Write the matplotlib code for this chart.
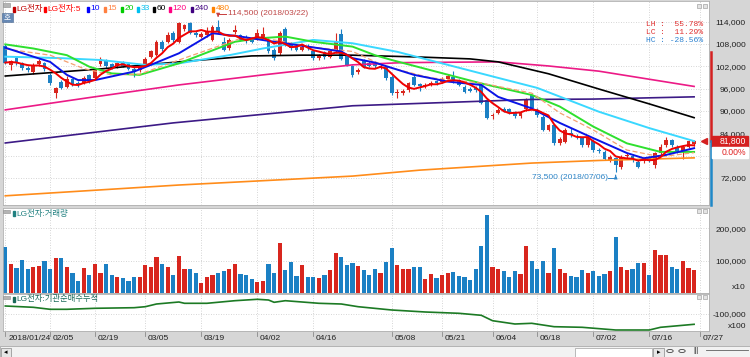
import matplotlib
matplotlib.use("Agg")
import matplotlib.pyplot as plt
from matplotlib.patches import Rectangle, Circle
from matplotlib.lines import Line2D
from matplotlib.transforms import blended_transform_factory as blend
import numpy as np
import pandas as pd

plt.rcParams['font.family'] = ['Liberation Sans', 'Noto Sans CJK KR', 'DejaVu Sans']

# ---------------- data (prices in thousand won) ----------------
holidays = pd.to_datetime(['2018-02-15', '2018-02-16', '2018-03-01', '2018-05-01',
                           '2018-05-07', '2018-05-22', '2018-06-06', '2018-06-13'])
axis_days = pd.bdate_range('2018-01-24', '2018-07-27').difference(holidays)

opens = [107.5, 102.4, 104.3, 102.8, 101.6, 100.4, 102.6, 102.8, 99.7, 94.8,
         97.9, 96.5, 98.5, 97.6, 97.5, 99.6, 98.8, 102.5, 103.5, 102.6,
         102.0, 103.0, 102.6, 101.4, 101.0, 102.5, 104.6, 105.0, 108.6, 108.6,
         111.0, 108.6, 112.0, 113.6, 111.0, 110.0, 110.5, 109.1, 112.7, 108.6,
         106.9, 111.3, 110.4, 110.0, 109.3, 109.6, 110.0, 109.1, 106.4, 105.5,
         112.0, 108.2, 107.2, 106.5, 107.5, 106.0, 104.2, 105.8, 104.5, 106.0,
         110.8, 105.0, 102.0, 100.6, 103.7, 103.0, 102.8, 101.6, 101.9, 99.2,
         94.8, 94.8, 95.6, 99.2, 97.2, 96.6, 97.0, 98.0, 97.8, 98.5,
         99.0, 98.2, 96.5, 96.0, 96.2, 97.0, 93.0, 88.6, 89.5, 90.6,
         90.4, 89.5, 88.6, 90.5, 94.3, 90.3, 88.5, 84.9, 86.2, 81.3,
         81.7, 84.0, 83.3, 82.7, 80.8, 82.0, 79.6, 79.0, 76.8, 77.3,
         74.9, 77.8, 78.0, 76.4, 76.5, 77.5, 75.5, 78.6, 80.8, 82.2,
         80.4, 79.0, 80.4, 81.0]
highs = [108.0, 103.8, 104.8, 103.2, 102.0, 102.8, 104.0, 103.2, 100.2, 96.5,
         98.3, 99.5, 98.8, 98.0, 99.5, 100.0, 101.5, 104.5, 104.0, 103.0,
         103.2, 103.5, 103.0, 101.8, 102.6, 104.5, 106.5, 109.0, 109.0, 111.2,
         111.4, 114.0, 113.5, 114.0, 111.5, 111.2, 112.5, 113.2, 114.5, 110.0,
         109.5, 113.1, 110.8, 110.4, 109.8, 112.0, 112.5, 109.5, 106.8, 111.5,
         112.6, 108.6, 107.6, 107.8, 108.0, 106.4, 105.4, 106.2, 106.5, 110.9,
         112.0, 105.4, 102.4, 101.5, 104.0, 103.4, 103.2, 102.6, 102.2, 99.6,
         96.0, 95.8, 97.8, 99.6, 97.6, 97.4, 98.0, 98.4, 99.1, 99.9,
         100.8, 98.6, 96.9, 96.4, 96.6, 97.4, 93.4, 89.5, 90.7, 91.0,
         90.8, 89.9, 89.9, 93.6, 94.7, 90.7, 88.9, 86.6, 86.6, 82.9,
         85.3, 85.5, 83.7, 83.1, 83.5, 82.4, 80.0, 79.4, 78.1, 77.7,
         78.1, 78.6, 78.4, 76.8, 77.4, 77.9, 79.1, 81.0, 83.0, 82.6,
         80.8, 80.8, 82.2, 82.2]
lows = [102.5, 101.0, 102.3, 101.0, 100.5, 100.0, 102.2, 100.8, 97.0, 93.4,
        96.0, 96.2, 96.6, 96.5, 97.2, 97.6, 98.4, 102.0, 101.6, 101.2,
        101.6, 101.8, 101.0, 99.0, 100.6, 102.0, 104.3, 104.8, 106.2, 108.2,
        108.6, 108.2, 111.4, 110.6, 110.0, 109.6, 110.0, 108.8, 110.9, 106.0,
        106.5, 110.8, 108.8, 108.4, 108.2, 109.2, 109.6, 105.6, 103.8, 105.0,
        107.4, 106.4, 106.0, 106.2, 106.4, 103.8, 103.8, 104.0, 104.2, 105.6,
        103.6, 102.0, 99.2, 100.0, 101.5, 101.8, 101.6, 101.2, 98.4, 94.4,
        93.5, 94.4, 95.2, 96.6, 95.5, 96.2, 96.6, 97.1, 97.4, 98.1,
        97.6, 96.6, 94.8, 95.1, 95.2, 91.8, 87.8, 87.8, 89.1, 89.6,
        89.2, 88.2, 88.2, 90.1, 90.4, 88.5, 84.5, 84.5, 80.9, 80.9,
        81.3, 83.1, 82.6, 80.4, 80.4, 79.0, 78.8, 76.8, 76.4, 73.5,
        74.5, 77.4, 76.4, 74.6, 76.1, 76.4, 74.8, 78.2, 80.4, 80.4,
        78.6, 77.2, 80.0, 80.6]
closes = [103.0, 103.3, 102.8, 101.5, 101.0, 102.4, 103.5, 101.2, 97.4, 96.1,
          96.3, 98.5, 97.0, 97.0, 98.8, 98.0, 101.0, 104.0, 102.0, 101.8,
          102.8, 102.2, 101.4, 100.6, 102.2, 104.1, 106.0, 108.6, 106.6, 110.4,
          109.0, 113.6, 113.0, 111.0, 110.4, 110.8, 111.5, 112.7, 111.3, 106.4,
          109.1, 111.8, 109.1, 108.8, 108.6, 111.0, 110.8, 106.0, 104.2, 111.0,
          107.8, 106.8, 106.5, 107.3, 106.8, 104.2, 105.0, 104.5, 106.0, 108.6,
          104.0, 102.4, 99.6, 101.0, 101.9, 102.2, 102.0, 102.2, 98.8, 94.8,
          95.2, 95.3, 97.4, 97.0, 96.8, 97.0, 97.6, 97.5, 98.7, 99.5,
          98.0, 97.0, 95.2, 95.5, 95.6, 92.2, 88.2, 89.0, 90.3, 90.0,
          89.6, 88.6, 89.5, 93.2, 90.8, 88.9, 84.9, 86.2, 81.3, 82.5,
          84.9, 83.5, 83.0, 80.8, 82.7, 79.4, 79.2, 77.2, 77.7, 75.5,
          77.7, 78.2, 76.8, 75.0, 77.0, 76.8, 78.7, 80.4, 82.2, 80.8,
          79.0, 80.4, 81.8, 81.8]
volume = [140600, 89500, 77300, 101800, 73100, 79100, 84300, 97600, 73100, 107900,
          107900, 81300, 62900, 38300, 77300, 56700, 89500, 62900, 89500, 56700,
          48500, 46500, 38300, 50600, 48500, 85300, 81300, 112000, 89500, 81300,
          56700, 115100, 75200, 75200, 62900, 30100, 48500, 56700, 60700, 69000,
          73100, 89500, 58900, 54600, 42300, 34400, 36200, 89500, 62900, 152800,
          71200, 95700, 52800, 85300, 50600, 50600, 46500, 54600, 71200, 122100,
          112000, 85300, 91400, 83400, 71200, 56700, 75200, 60700, 95700, 138600,
          85300, 75200, 75200, 81300, 81300, 42300, 58900, 46500, 54600, 60700,
          64900, 52800, 50600, 40300, 73100, 144700, 240800, 79100, 73100, 69000,
          48500, 69000, 58900, 144700, 97600, 75200, 99700, 62900, 138600, 75200,
          62900, 52800, 50600, 71200, 60700, 67000, 52800, 58900, 69000, 173300,
          79100, 71200, 75200, 93600, 93600, 54600, 132500, 118200, 116100, 81300,
          73100, 97600, 77300, 71200]

# moving averages (bar index, value)
ma10_idx = [0, 5, 8, 11, 13, 16, 23, 26, 31, 37, 42, 48, 54, 60, 62, 66, 73, 79, 85, 88, 94, 99, 105, 111, 114, 118, 123]
ma10_val = [107, 104.6, 103.2, 99.7, 98.3, 98.3, 100.6, 102.4, 105.5, 110.9, 110, 108.6, 107.3, 106, 104.2, 103,
            99.7, 97.9, 97, 93.8, 90.7, 86.8, 82.7, 78.7, 77.3, 78.2, 80]
ma15_idx = [0, 8, 14, 19, 24, 31, 42, 48, 54, 62, 68, 76, 85, 94, 99, 105, 111, 117, 123]
ma15_val = [106.7, 105, 101.4, 99.7, 99.9, 103.7, 109.5, 109.1, 107.3, 106, 101.9, 98.9, 97.5, 94.8, 89.5, 84.9,
            79.5, 77.7, 78.8]
ma20_idx = [0, 5, 11, 15, 19, 24, 31, 41, 45, 50, 55, 62, 66, 69, 85, 94, 99, 105, 111, 117, 123]
ma20_val = [107.9, 106.8, 105, 101.9, 100.1, 99.7, 102.8, 108.6, 109.5, 110, 108.6, 107.3, 105, 103.7, 97.4, 94.3,
            91.2, 85.8, 81.3, 79, 79]
ma33_idx = [0, 10, 17, 25, 31, 40, 46, 55, 62, 70, 79, 88, 95, 106, 115, 123]
ma33_val = [104.6, 104.2, 103.7, 102.4, 102.8, 105, 106.8, 109.1, 108.2, 105.9, 102.4, 98.9, 96.2, 89.8, 85.4, 81.9]
ma60_idx = [0, 17, 31, 44, 53, 62, 74, 83, 88, 97, 106, 115, 123]
ma60_val = [99.4, 101.3, 103.2, 104.8, 105, 105, 104.5, 104, 103.2, 100, 95.9, 91.9, 88.2]
ma120_idx = [0, 15, 31, 46, 62, 71, 88, 97, 106, 123]
ma120_val = [90.3, 93.6, 97, 99.7, 102.4, 103, 103.2, 102.1, 100.7, 96.6]
ma240_idx = [0, 30, 62, 94, 105, 123]
ma240_val = [81.4, 86.8, 91.4, 93.1, 93.2, 93.8]
ma480_idx = [0, 31, 62, 74, 94, 106, 123]
ma480_val = [67.2, 70.1, 72.5, 74.1, 76.0, 76.7, 77.4]

# institutional cumulative net buying (x100)
inst_idx = [0, 5, 8, 11, 16, 23, 25, 27, 31, 32, 36, 41, 45, 47, 48, 50, 53, 56, 60, 63,
            69, 75, 81, 85, 87, 91, 94, 98, 103, 109, 115, 117, 123]
inst_val = [-85000, -87600, -91600, -91600, -89600, -88400, -86400, -81000, -77000, -79600,
            -79600, -74400, -71600, -73000, -77600, -74400, -77000, -79600, -81000, -86400,
            -93000, -97000, -99600, -103600, -114400, -121000, -119600, -126400, -127600, -133000,
            -133000, -127600, -121600]

tick_days = ['2018-01-24', '2018-02-05', '2018-02-19', '2018-03-05', '2018-03-19', '2018-04-02',
             '2018-04-16', '2018-05-08', '2018-05-21', '2018-06-04', '2018-06-18', '2018-07-02',
             '2018-07-16', '2018-07-27']
price_ticks = [72, 78, 84, 90, 96, 102, 108, 114]
vol_ticks = [100000, 200000]
inst_ticks = [-100000]
range_top = 105.8

legend_labels = ['LG전자', 'LG전자:5', '10', '15', '20', '33', '60', '120', '240', '480']
legend_colors = ['#c00000', '#ff0000', '#0000ff', '#ff8040', '#00cc00', '#00c0f0', '#000000',
                 '#ff0080', '#400080', '#ff8000']
legend_x = [13, 44, 87, 104, 121, 137, 153, 169, 191, 212]

RED = '#d8261e'
BLUE = '#1b80c4'

# ---------------- figure ----------------
W, H = 750, 357
fig = plt.figure(figsize=(7.5, 3.57), dpi=100, facecolor='#d6d6d6')


def rect(x0, y0, x1, y1):
    return [x0 / W, 1 - y1 / H, (x1 - x0) / W, (y1 - y0) / H]


def box(x0, y0, x1, y1, **kw):
    fig.add_artist(Rectangle((x0 / W, 1 - y1 / H), (x1 - x0) / W, (y1 - y0) / H,
                             transform=fig.transFigure, **kw))


ax = fig.add_axes(rect(3, 1, 709, 205))
axv = fig.add_axes(rect(3, 208, 709, 293))
axi = fig.add_axes(rect(3, 294, 709, 331))

o = np.array(opens)
h = np.array(highs)
l = np.array(lows)
c = np.array(closes)
v = np.array(volume)
x = np.arange(len(c))
cols = np.where(c >= o, RED, BLUE)
tick_idx = [axis_days.get_loc(pd.Timestamp(d)) for d in tick_days]
tick_lab = [pd.Timestamp(d).strftime('%m/%d') for d in tick_days]
tick_lab[0] = pd.Timestamp(tick_days[0]).strftime('%Y/%m/%d')

for a in (ax, axv, axi):
    a.set_facecolor('white')
    a.set_xlim(-0.41, 125.66)
    a.set_xticks(tick_idx)
    a.tick_params(axis='x', length=0, labelbottom=False)
    a.grid(True, color='#c8c8c8', ls=(0, (1, 2)), lw=0.6)
    a.set_axisbelow(True)
    a.yaxis.tick_right()
    a.tick_params(axis='y', length=0, labelsize=6, pad=26.6, labelcolor='#202020')
    for s in a.spines.values():
        s.set_color('#b0b0b0')
        s.set_linewidth(0.6)

# ---- price panel ----
# the current price box covers the 78,000 label, so it stays blank
ax.set_ylim(64.73, 119.56)
ax.set_yticks(price_ticks, labels=['' if p == 78 else f"{int(p * 1000):,}" for p in price_ticks])
for t in ax.get_yticklabels():
    t.set_horizontalalignment('right')

ax.vlines(x, l, h, color=cols, lw=0.8, zorder=3)
ax.bar(x, np.maximum(np.abs(c - o), 0.15), bottom=np.minimum(o, c), width=0.7,
       color=cols, linewidth=0, zorder=3)

ma5 = pd.Series(c).rolling(5, min_periods=1).mean()
ax.plot(ma480_idx, ma480_val, color='#ff8c1a', lw=1.2, zorder=4)
ax.plot(ma240_idx, ma240_val, color='#3c1a86', lw=1.2, zorder=4)
ax.plot(ma120_idx, ma120_val, color='#ec1a86', lw=1.2, zorder=4)
ax.plot(ma60_idx, ma60_val, color='#000000', lw=1.2, zorder=4)
ax.plot(ma33_idx, ma33_val, color='#3ad8ff', lw=1.4, zorder=4)
ax.plot(ma20_idx, ma20_val, color='#2ee02e', lw=1.4, zorder=4)
ax.plot(ma15_idx, ma15_val, color='#f4a070', lw=0.9, ls=(0, (4, 2)), zorder=4)
ax.plot(ma10_idx, ma10_val, color='#0a14e6', lw=1.4, zorder=5)
ax.plot(x, ma5, color='#f00000', lw=1.4, zorder=5)

# high / low annotations
hi_i = int(np.argmax(h))
lo_i = int(np.argmin(l))
ax.annotate('', xy=(hi_i, h[hi_i]), xytext=(hi_i, h[hi_i] + 1.7),
            arrowprops=dict(arrowstyle='-|>', color='#c83c3c', lw=0.7, mutation_scale=5), zorder=6)
ax.plot([hi_i, hi_i + 1.5], [h[hi_i] + 1.7, h[hi_i] + 1.7], color='#c83c3c', lw=0.7, zorder=6)
ax.text(hi_i + 1.7, h[hi_i] + 1.7, f"{int(h[hi_i] * 1000):,} ({axis_days[hi_i].strftime('%Y/%m/%d')})",
        color='#c04848', fontsize=6, va='center', ha='left')
ax.annotate('', xy=(lo_i, l[lo_i]), xytext=(lo_i, l[lo_i] - 1.5),
            arrowprops=dict(arrowstyle='-|>', color='#2f86c8', lw=0.7, mutation_scale=5), zorder=6)
ax.plot([lo_i - 1.3, lo_i], [l[lo_i] - 1.5, l[lo_i] - 1.5], color='#2f86c8', lw=0.7, zorder=6)
ax.text(lo_i - 1.4, l[lo_i] - 1.5, f"{int(l[lo_i] * 1000):,} ({axis_days[lo_i].strftime('%Y/%m/%d')})",
        color='#2f86c8', fontsize=6, va='center', ha='right')

# LH / LC / HC box
lh = (h.max() - l.min()) / l.min() * 100
lc = (c[-1] - l.min()) / l.min() * 100
hc = (c[-1] - h.max()) / h.max() * 100
for k, (name, val, colr) in enumerate([('LH', lh, '#e03030'), ('LC', lc, '#e03030'), ('HC', hc, '#2a80d0')]):
    fig.text(703 / W, 1 - (24 + 8.4 * k) / H, f"{name} : {val:6.2f}%", family='Liberation Mono',
             fontsize=5.8, color=colr, ha='right', va='center')

# current price marker on the right
tr = blend(fig.transFigure, ax.transData)
fig.add_artist(Line2D([711 / W, 711 / W], [range_top, c[-1]], transform=tr, color='#d42020', lw=1.8))
fig.add_artist(Line2D([711 / W, 711 / W], [c[-1], ax.get_ylim()[0]], transform=tr, color='#1f88c8', lw=1.8))
ax.plot([0.9935], [c[-1]], marker='<', ms=4, color='#d42020', transform=blend(ax.transAxes, ax.transData),
        clip_on=False, zorder=7)
fig.add_artist(Rectangle((712 / W, c[-1] - 1.45), 36 / W, 2.9, transform=tr, color='#d42020', zorder=5))
fig.text(746 / W, c[-1], f"{int(round(c[-1] * 1000)):,}", transform=tr, color='white', fontsize=6.2,
         ha='right', va='center', zorder=6)
chg = (c[-1] / c[-2] - 1) * 100
fig.add_artist(Rectangle((712 / W, c[-1] - 4.45), 36 / W, 3.0, transform=tr, color='white', zorder=5))
fig.text(746 / W, c[-1] - 2.95, f"{chg:.2f}%", transform=tr, color='#e02020', fontsize=6.2,
         ha='right', va='center', zorder=6)

# legend row
for lab, colr, lx in zip(legend_labels, legend_colors, legend_x):
    box(lx, 6.5, lx + 2, 11.5, color=colr)
    fig.text((lx + 3.5) / W, 1 - 9 / H, lab, color=colr, fontsize=6, va='center', ha='left')
box(3, 3, 10, 7, fc='#b4b4b4', ec='#8c8c8c', lw=0.4)
box(2, 13, 13, 22, fc='#6688b4', ec='#4a6890', lw=0.4)
fig.text(7.5 / W, 1 - 17.5 / H, '호', color='white', fontsize=5.5, ha='center', va='center')

# ---- volume panel ----
axv.set_ylim(0, 262000)
axv.bar(x, v, width=0.75, color=cols, linewidth=0)
axv.set_yticks(vol_ticks, labels=[f"{t:,}" for t in vol_ticks])
for t in axv.get_yticklabels():
    t.set_horizontalalignment('right')
fig.text(746 / W, 1 - 287.5 / H, 'x10', fontsize=6, ha='right', va='center', color='#202020')
box(13, 211.5, 15, 216.5, color='#208080')
fig.text(16.5 / W, 1 - 214 / H, 'LG전자:거래량', color='#208080', fontsize=6, va='center')
box(3, 209.5, 10, 212.5, fc='#b4b4b4', ec='#8c8c8c', lw=0.4)

# ---- institutional panel ----
axi.set_ylim(-135000, -61000)
axi.plot(inst_idx, inst_val, color='#1c7a24', lw=1.2)
axi.set_yticks(inst_ticks, labels=[f"{t:,}" for t in inst_ticks])
for t in axi.get_yticklabels():
    t.set_horizontalalignment('right')
fig.text(746 / W, 1 - 326 / H, 'x100', fontsize=6, ha='right', va='center', color='#202020')
box(13, 297, 15, 302, color='#1a6a5a')
fig.text(16.5 / W, 1 - 299.5 / H, 'LG전자:기관순매수누적', color='#1a6a5a', fontsize=6, va='center')
box(3, 295.5, 10, 298.5, fc='#b4b4b4', ec='#8c8c8c', lw=0.4)

# panel widgets (top right)
for wy in (5, 210, 296):
    box(697, wy - 1.5, 701, wy + 2.5, fc='#e4e4e4', ec='#909090', lw=0.4)
    box(703, wy - 1.5, 707, wy + 2.5, fc='#e4e4e4', ec='#909090', lw=0.4)

# ---- date axis ----
td = blend(axi.transData, fig.transFigure)
for k, lab in zip(tick_idx, tick_lab):
    fig.add_artist(Line2D([k, k], [1 - 332 / H, 1 - 336 / H], transform=td, color='#8a8a8a', lw=0.6))
    fig.text(k + 0.5, 1 - 339 / H, lab, transform=td, fontsize=6, ha='left', va='center', color='#202020')

# ---- scroll bar row ----
box(0, 346, 750, 357, fc='#f2f2f2', ec='#a0a0a0', lw=0.5)
box(1, 347.5, 11, 356.5, fc='#e6e6e6', ec='#8a8a8a', lw=0.5)
fig.text(6 / W, 1 - 352 / H, '◂', family='DejaVu Sans', fontsize=5, ha='center', va='center')
box(575, 347.5, 652, 356.5, fc='white', ec='#a0a0a0', lw=0.5)
box(653, 347.5, 664, 356.5, fc='#e6e6e6', ec='#8a8a8a', lw=0.5)
fig.text(658.5 / W, 1 - 352 / H, '▸', family='DejaVu Sans', fontsize=5, ha='center', va='center')
for cx in (670, 682):
    fig.add_artist(Circle((cx / W, 1 - 351 / H), 3.2 / W, transform=fig.transFigure, fill=False,
                          ec='#404040', lw=0.6))
fig.text(693 / W, 1 - 350 / H, '|||', fontsize=5, ha='left', va='center', color='#404040')
fig.add_artist(Line2D([706 / W, 748 / W], [1 - 350 / H, 1 - 350 / H], transform=fig.transFigure,
                      color='#606060', lw=0.6))

fig.savefig('out.png', dpi=100, facecolor=fig.get_facecolor())
